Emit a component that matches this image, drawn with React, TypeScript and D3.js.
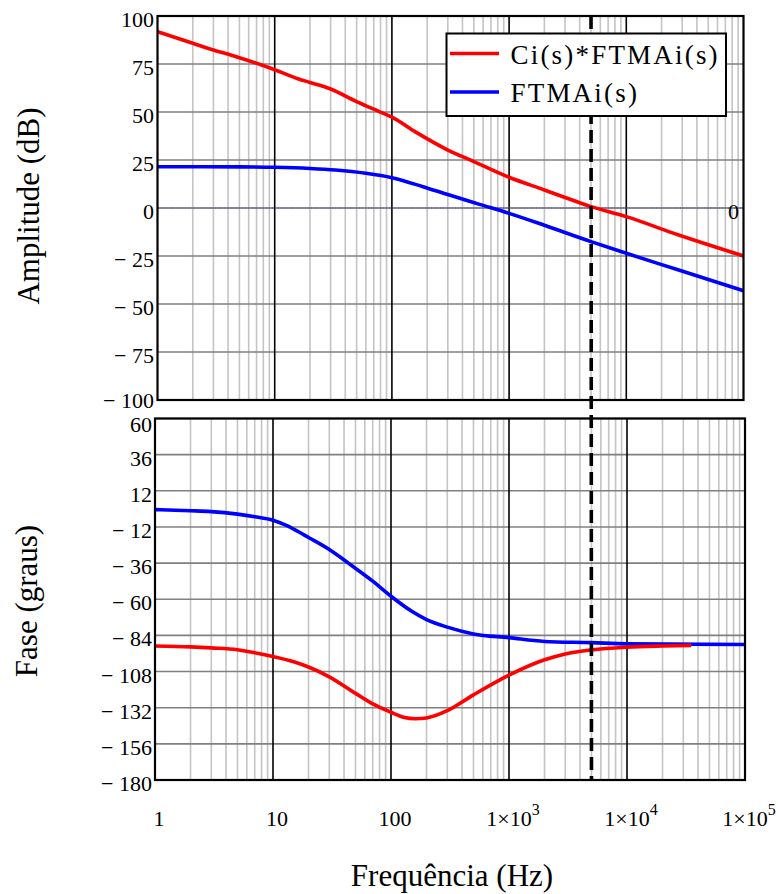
import React from "react";
import * as d3 from "d3";

// ---- data ----
const magFreqCi = [1, 2, 3, 4.7, 10, 16, 20, 30, 50, 78, 100, 160, 300, 500, 1000, 2000, 3000, 5000, 10000, 28000, 100000];
const magCi = [91.8, 85.8, 82.3, 78.8, 72, 67.2, 65.4, 62, 55.4, 50.2, 47.3, 39.5, 30.2, 24.2, 16, 9.4, 5.5, 0.7, -4.5, -14.1, -25];

const magFreqFt = [1, 5, 10, 20, 33, 60, 100, 184, 300, 560, 1000, 2000, 5000, 10000, 28000, 100000];
const magFt = [21.5, 21.4, 21.2, 20.6, 19.8, 18.1, 15.8, 11.1, 7, 1.9, -2.8, -9, -17.5, -23.6, -32.3, -43.1];

const phFreqFt = [1, 2, 3, 5, 7, 10, 13.4, 15, 20, 30, 43.5, 50, 70, 100, 150, 200, 300, 500, 1000, 2000, 5000, 10000, 100000];
const phFt = [-0.5, -1.2, -1.8, -3.5, -5.2, -7.5, -11.5, -13.5, -19, -27, -36, -39.5, -48, -58, -68, -73.5, -78.5, -83, -85.5, -88, -88.8, -89.6, -90];

const phFreqCi = [1, 2, 3, 5, 7, 10, 15, 20, 30, 50, 70, 100, 130, 160, 200, 300, 500, 1000, 2000, 3000, 5000, 10000, 20000, 35000];
const phCi = [-91, -91.6, -92.3, -93.5, -95.5, -98, -101.5, -105, -111.5, -122.5, -129.5, -135, -138.5, -139.3, -138.8, -134, -123.5, -110.4, -100.2, -96.3, -93.6, -91.8, -91, -90.6];

const magTicks = [100, 75, 50, 25, 0, -25, -50, -75, -100];
const phaseTicks = [60, 36, 12, -12, -36, -60, -84, -108, -132, -156, -180];
const decades = [1, 10, 100, 1000, 10000, 100000];
const decadeLabelBase = ["1", "10", "100", "1×10", "1×10", "1×10"];
const decadeLabelSup = ["", "", "", "3", "4", "5"];
const crossoverFreq = 5000;
const legendNames = ["Ci(s)*FTMAi(s)", "FTMAi(s)"];
const seriesColors = ["#ff0000", "#0000ff"];

const FONT = "Liberation Serif";

function fmt(v: number) {
  return v < 0 ? "\u2212 " + Math.abs(v) : String(v);
}

function minorFreqs() {
  const out: number[] = [];
  for (let d = 0; d < 5; d++) for (let k = 2; k <= 9; k++) out.push(k * Math.pow(10, d));
  return out;
}

export default function App() {
  const W = 778, H = 894;
  const top = { x0: 157.5, x1: 743.5, y0: 16, y1: 400 };
  const bot = { x0: 155, x1: 745, y0: 418.5, y1: 780 };

  const xTop = d3.scaleLog().domain([1, 1e5]).range([top.x0, top.x1]);
  const xBot = d3.scaleLog().domain([1, 1e5]).range([bot.x0, bot.x1]);
  const yMag = d3.scaleLinear().domain([-100, 100]).range([top.y1, top.y0]);
  const yPh = d3.scaleLinear().domain([-180, 60]).range([bot.y1, bot.y0]);

  const mk = (x: any, y: any, fs: number[], vs: number[]) =>
    d3.line<number>().x((_, i) => x(fs[i])).y((v) => y(v)).curve(d3.curveMonotoneX)(vs) || "";

  const minors = minorFreqs();

  const grid = (x: any, y: any, p: any, ticks: number[]) => (
    <g>
      {minors.map((f, i) => (
        <line key={"m" + i} x1={x(f)} x2={x(f)} y1={p.y0} y2={p.y1} stroke="#c4c4c4" strokeWidth={1.6} />
      ))}
      {ticks.map((t, i) => (
        <line key={"h" + i} x1={p.x0} x2={p.x1} y1={y(t)} y2={y(t)} stroke="#808080" strokeWidth={1.6} />
      ))}
      {decades.slice(1, 5).map((f, i) => (
        <line key={"d" + i} x1={x(f)} x2={x(f)} y1={p.y0} y2={p.y1} stroke="#000" strokeWidth={1.6} />
      ))}
    </g>
  );

  const txt = { fontFamily: FONT };

  return (
    <svg width={W} height={H} style={{ position: "absolute", left: 0, top: 0, background: "#fff" }}>
      <rect x={0} y={0} width={W} height={H} fill="#fff" />
      {/* top panel */}
      {grid(xTop, yMag, top, magTicks)}
      <line x1={top.x0} x2={top.x1} y1={yMag(0)} y2={yMag(0)} stroke="#50509a" strokeWidth={1} strokeDasharray="2,1" />
      <text x={739} y={218.5} fontSize={22} textAnchor="end" style={txt}>0</text>
      <path d={mk(xTop, yMag, magFreqCi, magCi)} fill="none" stroke={seriesColors[0]} strokeWidth={3.6} />
      <path d={mk(xTop, yMag, magFreqFt, magFt)} fill="none" stroke={seriesColors[1]} strokeWidth={3.6} />
      <rect x={top.x0} y={top.y0} width={top.x1 - top.x0} height={top.y1 - top.y0} fill="none" stroke="#000" strokeWidth={2.2} />
      {magTicks.map((t, i) => (
        <text key={i} x={154} y={yMag(t) + (i === magTicks.length - 1 ? 8 : 10.5)} fontSize={22} textAnchor="end" style={txt}>{fmt(t)}</text>
      ))}

      {/* bottom panel */}
      {grid(xBot, yPh, bot, phaseTicks)}
      <path d={mk(xBot, yPh, phFreqFt, phFt)} fill="none" stroke={seriesColors[1]} strokeWidth={3.6} />
      <path d={mk(xBot, yPh, phFreqCi, phCi)} fill="none" stroke={seriesColors[0]} strokeWidth={3.6} />
      <rect x={bot.x0} y={bot.y0} width={bot.x1 - bot.x0} height={bot.y1 - bot.y0} fill="none" stroke="#000" strokeWidth={2.2} />
      {phaseTicks.map((t, i) => (
        <text key={i} x={152} y={yPh(t) + (i === 0 ? 13 : 11)} fontSize={22} textAnchor="end" style={txt}>{fmt(t)}</text>
      ))}

      {/* crossover dashed line */}
      <line x1={xTop(crossoverFreq)} x2={xBot(crossoverFreq)} y1={top.y0} y2={bot.y1} stroke="#000" strokeWidth={3.6} strokeDasharray="13,6" />

      {/* legend */}
      <rect x={446.5} y={33.5} width={279.5} height={82.5} fill="#fff" stroke="#000" strokeWidth={2} />
      {legendNames.map((n, i) => (
        <g key={i}>
          <line x1={450} x2={499} y1={53.5 + i * 38.5} y2={53.5 + i * 38.5} stroke={seriesColors[i]} strokeWidth={3.6} />
          <text x={510.5} y={63.5 + i * 38.5} fontSize={27} letterSpacing={2.2} style={txt}>{n}</text>
        </g>
      ))}

      {/* x tick labels */}
      {decades.map((f, i) => (
        <text key={i} x={xBot(f) + 4} y={826} fontSize={22} textAnchor="middle" style={txt}>
          {decadeLabelBase[i]}
          {decadeLabelSup[i] ? <tspan dy={-11} fontSize={16}>{decadeLabelSup[i]}</tspan> : null}
        </text>
      ))}

      {/* axis titles */}
      <text transform={`translate(38.5,206) rotate(-90)`} fontSize={31} textAnchor="middle" style={txt}>Amplitude (dB)</text>
      <text transform={`translate(37,601) rotate(-90)`} fontSize={31} textAnchor="middle" style={txt}>Fase (graus)</text>
      <text x={452} y={886} fontSize={31} textAnchor="middle" style={txt}>Frequência (Hz)</text>
    </svg>
  );
}
